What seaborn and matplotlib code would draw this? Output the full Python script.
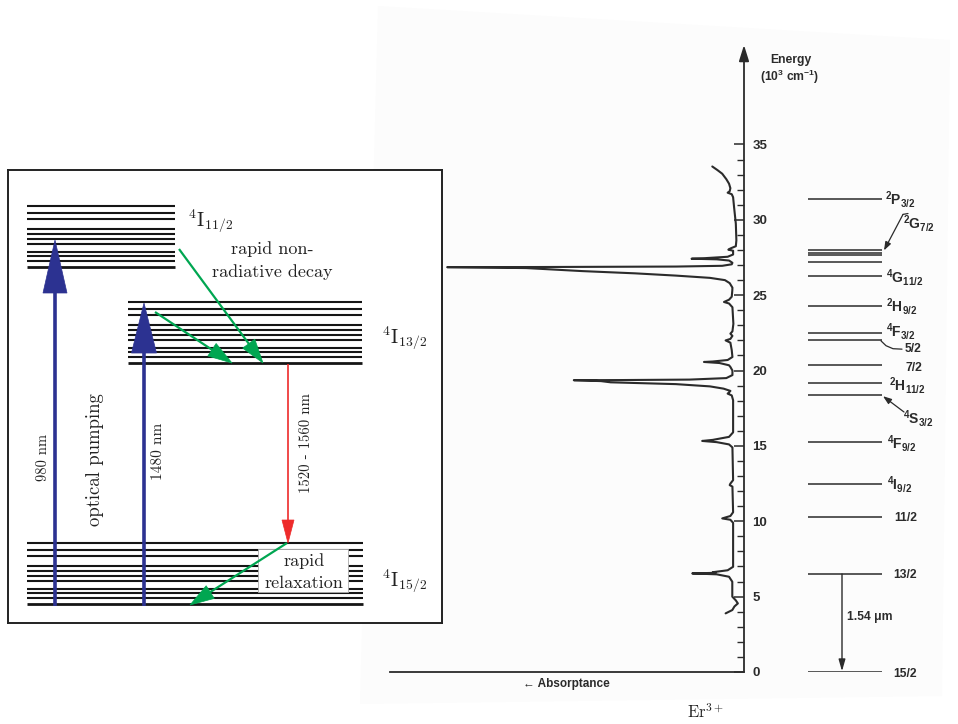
import numpy as np
import pandas as pd
import matplotlib
matplotlib.use("Agg")
import matplotlib.pyplot as plt
from matplotlib.patches import Polygon, Rectangle
import seaborn as sns

# ---------------- data: Er3+ absorption spectrum (energy in 10^3 cm^-1, absorptance a.u.)
spec_energy = [33.54, 33.3, 33.06, 32.7, 32.4, 32.1, 31.9, 31.8, 31.7, 31.5, 30.85, 29.74,
               28.64, 28.25, 28.1, 28.02, 27.95, 27.7, 27.55, 27.45, 27.42, 27.38, 27.3,
               27.15, 27.05, 26.95, 26.9, 26.87, 26.86, 26.8, 26.6, 26.45, 26.3, 26.15,
               26.0, 25.8, 25.5, 25.3, 24.9, 24.7, 24.55, 24.45, 24.2, 23.1, 22.6, 22.45,
               22.3, 22.1, 22.0, 21.85, 21.35, 20.9, 20.7, 20.6, 20.57, 20.5, 20.35,
               20.24, 20.0, 19.7, 19.5, 19.4, 19.37, 19.36, 19.3, 19.22, 19.1, 18.95,
               18.8, 18.65, 18.55, 18.47, 18.35, 18.03, 15.9, 15.6, 15.4, 15.33, 15.25,
               15.1, 14.9, 12.73, 12.5, 12.4, 12.3, 10.6, 10.35, 10.19, 10.1, 9.9, 6.98,
               6.75, 6.62, 6.58, 6.54, 6.48, 6.32, 5.99, 5.0, 4.75, 4.55, 4.35, 4.11, 3.89]
spec_absorb = [2.33, 1.95, 1.6, 1.3, 1.1, 1.0, 1.05, 1.2, 0.9, 0.8, 0.73, 0.6,
               0.56, 0.6, 1.0, 1.15, 0.8, 0.8, 1.2, 3.0, 3.85, 2.0, 1.1,
               0.85, 0.9, 1.6, 5.0, 15.0, 21.8, 16.0, 11.9, 8.0, 5.0, 2.5,
               1.4, 1.05, 0.85, 0.86, 0.9, 1.1, 1.47, 1.1, 0.85, 0.78, 0.85, 1.0,
               0.85, 1.0, 1.35, 1.0, 0.9, 0.85, 1.2, 2.3, 2.94, 1.8, 1.1,
               1.0, 0.85, 0.85, 1.3, 4.0, 9.0, 12.5, 10.5, 9.8, 5.0, 2.5,
               1.5, 1.0, 1.1, 1.2, 0.9, 0.8, 0.8, 1.1, 2.3, 3.07, 2.0,
               1.1, 0.85, 0.8, 1.0, 1.05, 0.85, 0.8, 1.0, 1.6, 1.0, 0.8, 0.8,
               1.2, 2.3, 2.1, 3.8, 2.0, 1.1, 0.86, 0.86, 0.6, 0.45, 0.7, 0.86, 1.35]

# energy levels of Er3+ (10^3 cm^-1)
level_E = [31.4, 27.97, 27.8, 27.64, 27.2, 26.3, 24.3, 22.5, 22.0, 20.35, 19.15, 18.36,
           15.25, 12.46, 10.27, 6.5, 0.0]
label_text = [r'$^2$P$_{3/2}$', r'$^2$G$_{7/2}$', r'$^4$G$_{11/2}$', r'$^2$H$_{9/2}$',
              r'$^4$F$_{3/2}$', '5/2', '7/2', r'$^2$H$_{11/2}$', r'$^4$S$_{3/2}$',
              r'$^4$F$_{9/2}$', r'$^4$I$_{9/2}$', '11/2', '13/2', '15/2']
label_E = [30.99, 29.40, 25.81, 23.89, 22.26, 21.22, 19.97, 18.64, 16.46, 14.80, 12.08,
           10.03, 6.25, -0.33]
label_x = [885, 903, 886, 886, 886, 905, 905, 889, 903, 887, 887, 894, 893, 893]
energy_ticks = [0, 5, 10, 15, 20, 25, 30, 35]

# ---------------- data: schematic of the 3-level erbium amplifier
lvl_names = [r'$^4\mathrm{I}_{11/2}$', r'$^4\mathrm{I}_{13/2}$', r'$^4\mathrm{I}_{15/2}$']
lvl_x0 = [27, 128, 27]
lvl_x1 = [175, 362, 363]
lvl_top = [206, 302, 543]
sub_off = [0, 6.5, 13.3, 22.8, 28.2, 33.3, 38.3, 46, 49.5, 55, 61]
lvl_label_xy = [(188, 221), (382, 338), (382, 581)]
pump_x = [55, 144]
pump_tip = [240, 303]
pump_head = [(53, 24), (50, 25)]
pump_labels = ['980 nm', '1480 nm']
green_arrows = [(179, 249, 263, 363), (155, 312, 232, 363), (287, 543, 190, 605)]

W, H = 958, 724
BLUE = '#2c3291'
GREEN = '#00a651'
RED = '#ee2b2b'
INK = '#2b2b2b'

sns.set_style('white')
plt.rcParams['font.family'] = ['Liberation Sans', 'DejaVu Sans']
plt.rcParams['mathtext.fontset'] = 'custom'
plt.rcParams['mathtext.rm'] = 'Liberation Sans:bold'
plt.rcParams['mathtext.it'] = 'Liberation Sans:italic:bold'
plt.rcParams['mathtext.bf'] = 'Liberation Sans:bold'

fig = plt.figure(figsize=(W / 100, H / 100), dpi=100)
fig.patch.set_facecolor('white')

# faint scanned page background
page = [(378, 6), (950, 40), (942, 696), (360, 704)]
fig.patches.append(Polygon([(x / W, 1 - y / H) for x, y in page], closed=True,
                           transform=fig.transFigure, fc='#fcfcfc', ec='none', zorder=-10))

# ================= right: spectrum =================
E_TOP = 41.6
ax = fig.add_axes([390 / W, 1 - 672 / H, 354 / W, 627 / H])
ax.patch.set_alpha(0)
df = pd.DataFrame({'absorptance': spec_absorb, 'energy': spec_energy})
sns.lineplot(data=df, x='absorptance', y='energy', sort=False, estimator=None,
             ax=ax, color=INK, lw=1.5)
ax.set_xlim(26.0, 0)
ax.set_ylim(0, E_TOP)
ax.set_xlabel('')
ax.set_ylabel('')
for s in ['left', 'top', 'right']:
    ax.spines[s].set_visible(False)
ax.spines['bottom'].set_color(INK)
ax.spines['bottom'].set_linewidth(1.3)
ax.yaxis.tick_right()
ax.set_yticks(energy_ticks)
ax.set_yticks(np.arange(0, 36, 1), minor=True)
ax.set_yticklabels([str(t) for t in energy_ticks], fontsize=9.5, fontweight='bold', color=INK)
ax.tick_params(axis='y', which='major', direction='in', length=7, width=1.1, color=INK,
               pad=6, right=True, left=False)
ax.tick_params(axis='y', which='minor', direction='in', length=5, width=1.0, color=INK,
               right=True, left=False)
ax.set_xticks(np.arange(0.5, 26, 5))
ax.set_xticks(np.arange(0.5, 26, 1), minor=True)
ax.set_xticklabels([])
ax.tick_params(axis='x', which='major', direction='in', length=9, width=1.1, color=INK)
ax.tick_params(axis='x', which='minor', direction='in', length=5, width=1.0, color=INK)
ax.annotate('', xy=(0, E_TOP), xytext=(0, 0), annotation_clip=False,
            arrowprops=dict(arrowstyle='-|>,head_length=0.8,head_width=0.25', lw=1.3,
                            color=INK, mutation_scale=12, shrinkA=0, shrinkB=0))

# levels axes (x in pixel units, shared energy scale)
lv = fig.add_axes([745 / W, 1 - 672 / H, 213 / W, 627 / H], sharey=ax)
lv.set_xlim(745, 958)
lv.axis('off')
lv.patch.set_alpha(0)
lv.hlines(level_E, 808, 882, color=INK, lw=1.1)
for t, e, x in zip(label_text, label_E, label_x):
    size = 10 if '$' in t else 8.7
    lv.text(x, e, t, fontsize=size, fontweight='bold', color=INK, ha='left', va='baseline')
lv.text(791, 40.62, 'Energy', fontsize=8.7, fontweight='bold', color=INK, ha='center', va='center')
lv.text(790, 39.5, r'(10$^3$ cm$^{-1}$)', fontsize=8.7, fontweight='bold', color=INK,
        ha='center', va='center')
# leaders
lv.annotate('', xy=(884, 27.97), xytext=(903, 30.36),
            arrowprops=dict(arrowstyle='-|>,head_length=0.5,head_width=0.18', lw=0.9,
                            color=INK, mutation_scale=10, shrinkA=0, shrinkB=0))
lv.plot([903, 908], [30.36, 30.42], color=INK, lw=0.9)
lv.plot([881, 886, 893, 902], [21.97, 21.65, 21.45, 21.42], color=INK, lw=0.9)
lv.annotate('', xy=(883, 18.3), xytext=(904, 17.25),
            arrowprops=dict(arrowstyle='-|>,head_length=0.5,head_width=0.18', lw=0.9,
                            color=INK, mutation_scale=10, shrinkA=0, shrinkB=0))
lv.annotate('', xy=(842, 0.05), xytext=(842, 6.5),
            arrowprops=dict(arrowstyle='-|>,head_length=0.7,head_width=0.2', lw=1.0,
                            color=INK, mutation_scale=10, shrinkA=0, shrinkB=0))
lv.text(847, 3.65, '1.54 μm', fontsize=8.7, fontweight='bold', color=INK, ha='left', va='center')

fig.text(566 / W, 1 - 684 / H, '← Absorptance', fontsize=8.5, fontweight='bold', color=INK,
         ha='center', va='center')
fig.text(705 / W, 1 - 712 / H, r'Er$^{3+}$', fontsize=12, family='cmr10', math_fontfamily='cm',
         ha='center', va='center', color='#222222')

# ================= left: schematic =================
la = fig.add_axes([8 / W, 1 - 623 / H, 434 / W, 453 / H])
la.set_xlim(8, 442)
la.set_ylim(623, 170)
la.set_xticks([])
la.set_yticks([])
la.set_facecolor('white')
for s in la.spines.values():
    s.set_color('#222222')
    s.set_linewidth(1.4)
    s.set_visible(True)

for x0, x1, top in zip(lvl_x0, lvl_x1, lvl_top):
    for i, off in enumerate(sub_off):
        la.plot([x0, x1], [top + off] * 2, color='#151515',
                lw=2.0 if i == len(sub_off) - 1 else 1.5, solid_capstyle='butt', zorder=2)


def arrow(ax_, x0, y0, x1, y1, color, lw, hl, hw, z=5):
    dx, dy = x1 - x0, y1 - y0
    L = np.hypot(dx, dy)
    ux, uy = dx / L, dy / L
    bx, by = x1 - ux * hl, y1 - uy * hl
    ax_.plot([x0, bx + ux * 2], [y0, by + uy * 2], color=color, lw=lw,
             solid_capstyle='butt', zorder=z)
    px, py = -uy, ux
    ax_.add_patch(Polygon([(x1, y1), (bx + px * hw / 2, by + py * hw / 2),
                           (bx - px * hw / 2, by - py * hw / 2)], closed=True,
                          fc=color, ec=color, lw=0.5, zorder=z))


for x, tip, (hl, hw) in zip(pump_x, pump_tip, pump_head):
    arrow(la, x, 606, x, tip, BLUE, 2.6, hl, hw)
arrow(la, 288, 364, 288, 543, RED, 1.2, 23, 12)

la.add_patch(Rectangle((258, 549), 90, 43, fc='white', ec='#aaaaaa', lw=0.6, zorder=3))
for (x0, y0, x1, y1) in green_arrows:
    arrow(la, x0, y0, x1, y1, GREEN, 1.6, 24, 15, z=6)

cm = dict(family='cmr10', math_fontfamily='cm', color='#222222')
for name, (x, y) in zip(lvl_names, lvl_label_xy):
    la.text(x, y, name, fontsize=14, ha='left', va='center', **cm)
la.text(272, 249, 'rapid non-', fontsize=13, ha='center', va='center', **cm)
la.text(272, 272, 'radiative decay', fontsize=13, ha='center', va='center', **cm)
la.text(304, 561, 'rapid', fontsize=13, ha='center', va='center', zorder=4, **cm)
la.text(304, 583, 'relaxation', fontsize=13, ha='center', va='center', zorder=4, **cm)
la.text(43, 457, pump_labels[0], fontsize=10.5, rotation=90, ha='center', va='center', **cm)
la.text(158, 451, pump_labels[1], fontsize=11, rotation=90, ha='center', va='center', **cm)
la.text(95, 460, 'optical pumping', fontsize=13.5, rotation=90, ha='center', va='center', **cm)
la.text(306, 443, '1520 - 1560 nm', fontsize=10.7, rotation=90, ha='center', va='center', **cm)

fig.savefig('out.png', dpi=100, facecolor='white')
